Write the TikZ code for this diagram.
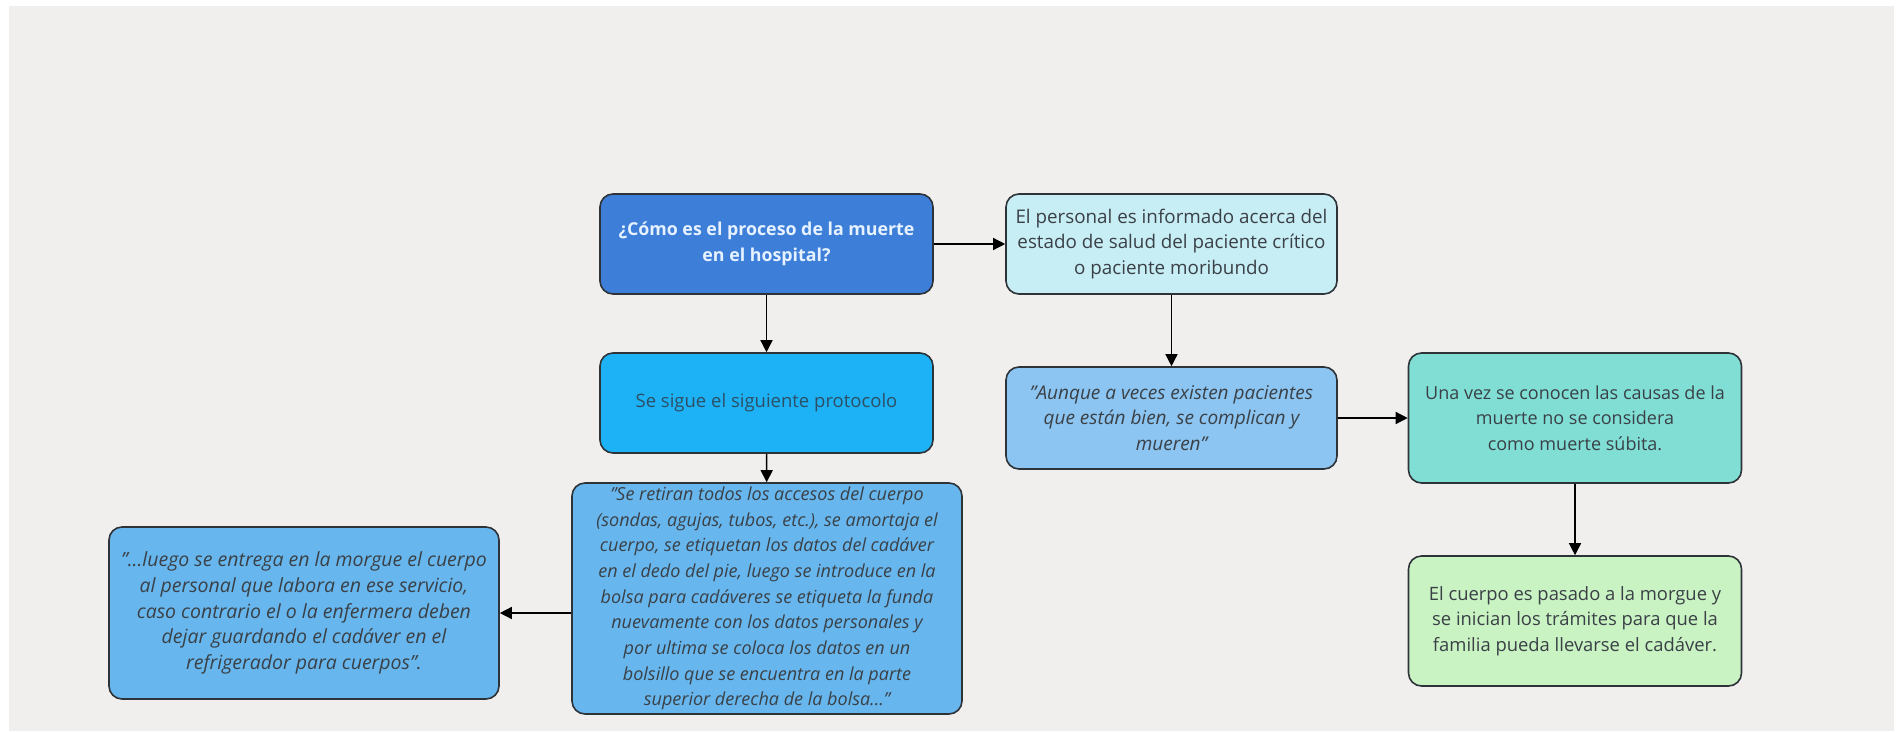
\documentclass[tikz,border=0pt]{standalone}
\usepackage{fontspec}
\setmainfont{Open Sans}
\usetikzlibrary{arrows.meta}
\definecolor{pagegray}{HTML}{F0EFED}
\definecolor{edge}{HTML}{2E3338}
\definecolor{txt}{HTML}{3A4046}
\definecolor{qfill}{HTML}{3D7ED8}
\definecolor{qtext}{HTML}{E6F2FF}
\definecolor{infofill}{HTML}{C8EEF5}
\definecolor{protofill}{HTML}{1DB2F6}
\definecolor{prototext}{HTML}{2C4F66}
\definecolor{quotefill}{HTML}{8CC5F1}
\definecolor{tealfill}{HTML}{80DED5}
\definecolor{greenfill}{HTML}{C9F3C3}
\definecolor{stepfill}{HTML}{67B7EE}
\newcommand{\boxfont}[1]{\fontsize{#1}{25.7}\selectfont}
\tikzset{
  box/.style={draw=edge, line width=1.6pt, rounded corners=13pt, align=center,
    inner sep=0pt, text=txt, font=\boxfont{18}},
  link/.style={draw=black, line width=1.4pt, -{Triangle[length=12pt,width=12pt]}}
}
\begin{document}
\begin{tikzpicture}[x=1pt, y=-1pt]
  % page and canvas
  \useasboundingbox[fill=white] (0,0) rectangle (1900,731);
  \fill[pagegray] (9,6) rectangle (1894,731);

  % boxes
  \node[box, fill=qfill, text=qtext, font=\boxfont{17.8}\bfseries,
        minimum width=333pt, minimum height=100pt] (q) at (766.5,244)
    {¿Cómo es el proceso de la muerte\\en el hospital?};
  \node[box, fill=infofill, font=\boxfont{18.8}, minimum width=331pt, minimum height=100pt] (info) at (1171.5,244)
    {El personal es informado acerca del\\estado de salud del paciente crítico\\o paciente moribundo};
  \node[box, fill=protofill, text=prototext, font=\boxfont{18.5}, minimum width=333pt, minimum height=100pt] (proto) at (766.5,403)
    {Se sigue el siguiente protocolo};
  \node[box, fill=quotefill, font=\boxfont{19}\itshape, minimum width=331pt, minimum height=102pt] (aunque) at (1171.5,418)
    {"Aunque a veces existen pacientes\\que están bien, se complican y\\mueren"};
  \node[box, fill=tealfill, minimum width=333pt, minimum height=130pt] (causas) at (1575,418)
    {Una vez se conocen las causas de la\\muerte no se considera\\como muerte súbita.};
  \node[box, fill=greenfill, font=\boxfont{18.4}, minimum width=333pt, minimum height=130pt] (morgue) at (1575,621)
    {El cuerpo es pasado a la morgue y\\se inician los trámites para que la\\familia pueda llevarse el cadáver.};
  \node[box, fill=stepfill, font=\boxfont{18}\itshape, minimum width=390pt, minimum height=231pt] (retiran) at (767,598.5)
    {"Se retiran todos los accesos del cuerpo\\(sondas, agujas, tubos, etc.), se amortaja el\\cuerpo, se etiquetan los datos del cadáver\\en el dedo del pie, luego se introduce en la\\bolsa para cadáveres se etiqueta la funda\\nuevamente con los datos personales y\\por ultima se coloca los datos en un\\bolsillo que se encuentra en la parte\\superior derecha de la bolsa..."};
  \node[box, fill=stepfill, font=\boxfont{19.5}\itshape, minimum width=390pt, minimum height=172pt] (entrega) at (304,613)
    {"...luego se entrega en la morgue el cuerpo\\al personal que labora en ese servicio,\\caso contrario el o la enfermera deben\\dejar guardando el cadáver en el\\refrigerador para cuerpos".};

  % connectors
  \draw[link] (q) -- (info);
  \draw[link] (q) -- (proto);
  \draw[link] (proto) -- (retiran);
  \draw[link] (info) -- (aunque);
  \draw[link] (aunque) -- (causas);
  \draw[link] (causas) -- (morgue);
  \draw[link] (retiran.west |- entrega.east) -- (entrega.east);
\end{tikzpicture}
\end{document}
